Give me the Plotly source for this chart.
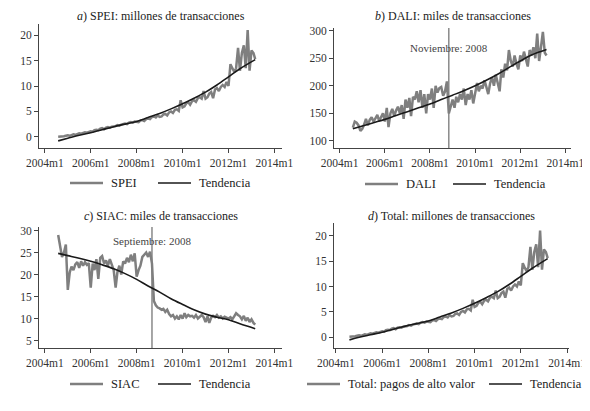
import pandas as pd
import plotly.graph_objects as go

# monthly observations, 2004m8 - 2013m3
months = pd.date_range("2004-08-01", "2013-03-01", freq="MS")

spei = [0.0, 0.0, 0.1, 0.1, 0.2,
        0.3, 0.2, 0.4, 0.5, 0.4, 0.6, 0.7, 0.6, 0.8, 0.9, 0.8, 1.0,
        1.1, 1.0, 1.3, 1.4, 1.3, 1.6, 1.7, 1.5, 1.8, 1.9, 1.8, 2.0,
        2.0, 2.1, 2.3, 2.2, 2.4, 2.5, 2.6, 2.5, 2.8, 2.9, 2.8, 3.0,
        3.0, 2.9, 3.2, 3.3, 3.1, 3.5, 3.6, 3.5, 3.9, 4.0, 3.8, 4.2,
        3.9, 4.0, 4.4, 4.5, 4.2, 4.8, 5.0, 4.7, 5.3, 5.4, 5.1, 7.2,
        5.8, 6.0, 6.6, 6.8, 6.3, 7.0, 7.2, 6.9, 7.6, 7.8, 7.5, 9.0,
        7.5, 7.8, 8.5, 8.8, 7.6, 9.3, 9.6, 9.0, 9.8, 10.2, 9.8, 10.8,
        10.0, 14.3, 13.5, 12.8, 13.5, 17.5, 13.0, 16.5, 18.0, 13.5, 21.0, 13.0,
        17.0, 16.5, 15.3]

dali = [124, 135, 133, 128, 118,
        122, 130, 140, 128, 138, 143, 135, 141, 147, 136, 145, 150,
        135, 160, 125, 150, 158, 145, 155, 162, 150, 165, 140, 175,
        160, 178, 145, 180, 175, 190, 170, 192, 160, 185, 150, 185,
        175, 195, 160, 200, 188, 196, 198, 182, 190, 208, 150, 165,
        175, 160, 180, 170, 185, 175, 195, 165, 185, 175, 192, 168,
        185, 205, 190, 200, 195, 210, 198, 185, 205, 215, 200, 220,
        205, 190, 230, 215, 240, 228, 265, 245, 235, 255, 240, 230,
        255, 245, 262, 250, 235, 265, 255, 270, 250, 295, 245, 270,
        298, 260, 255]

siac = [29.0, 26.5, 24.0, 25.0, 26.8,
        16.5, 20.5, 21.8, 21.0, 22.3, 22.8, 21.5, 23.0, 22.0, 22.8, 22.2, 22.6,
        17.0, 22.5, 21.0, 23.5, 19.0, 23.8, 24.2, 22.5, 23.2, 22.0, 23.5, 22.0,
        21.0, 17.0, 20.5, 22.0, 20.0, 23.0, 22.5, 23.8, 22.8, 24.5, 23.0, 24.8,
        19.5, 21.0, 22.0, 24.0, 24.5, 25.0, 24.0, 25.2, 22.5, 14.0, 13.0, 12.5,
        12.3, 12.0, 12.2, 11.5, 12.0, 11.0, 10.5, 10.8, 10.0, 10.5, 9.8, 10.8,
        10.0, 11.2, 10.3, 10.8, 10.5, 10.6, 10.2, 10.8, 10.0, 10.5, 10.8, 10.3,
        9.2, 10.5, 9.0, 10.2, 10.6, 10.3, 10.8, 10.2, 10.5, 10.0, 10.4, 10.2,
        10.0, 10.3, 9.8, 10.5, 11.2, 10.8, 10.5, 9.8, 10.6, 9.5, 10.2, 9.2,
        9.8, 9.0, 8.6]

total = [0.1, 0.1, 0.2, 0.2, 0.3,
         0.4, 0.3, 0.5, 0.6, 0.5, 0.7, 0.8, 0.7, 0.9, 1.0, 0.9, 1.1,
         1.2, 1.1, 1.4, 1.5, 1.4, 1.7, 1.8, 1.6, 1.9, 2.0, 1.9, 2.1,
         2.1, 2.2, 2.4, 2.3, 2.5, 2.6, 2.7, 2.6, 2.9, 3.0, 2.9, 3.1,
         3.1, 3.0, 3.3, 3.4, 3.2, 3.6, 3.7, 3.6, 4.0, 4.1, 3.9, 4.4,
         4.1, 4.2, 4.6, 4.7, 4.4, 5.0, 5.2, 4.9, 5.5, 5.6, 5.3, 7.4,
         6.0, 6.2, 6.8, 7.0, 6.5, 7.2, 7.4, 7.1, 7.8, 8.0, 7.7, 9.2,
         7.7, 8.0, 8.7, 9.0, 7.8, 9.5, 9.8, 9.2, 10.0, 10.4, 10.0, 11.0,
         10.2, 14.6, 13.8, 13.0, 13.8, 17.8, 13.3, 16.8, 18.3, 13.8, 21.0, 13.3,
         17.3, 16.8, 15.6]

# trend read every six months
trend_dates = ["2004-08-01", "2005-01-01", "2005-07-01", "2006-01-01", "2006-07-01",
               "2007-01-01", "2007-07-01", "2008-01-01", "2008-07-01", "2009-01-01",
               "2009-07-01", "2010-01-01", "2010-07-01", "2011-01-01", "2011-07-01",
               "2012-01-01", "2012-07-01", "2013-03-01"]
spei_trend = [-0.8, -0.3, 0.3, 0.8, 1.4, 2.0, 2.5, 3.0, 3.8, 4.6, 5.5, 6.5,
              7.6, 8.8, 10.2, 11.8, 13.4, 15.2]
dali_trend = [122, 127, 133, 139, 146, 153, 160, 167, 175, 183, 191, 200,
              210, 221, 233, 245, 256, 266]
siac_trend = [24.8, 24.3, 23.7, 23.0, 22.2, 21.3, 20.2, 18.9, 17.4, 16.0, 14.5, 13.2,
              12.0, 11.0, 10.3, 9.7, 8.8, 7.7]
total_trend = [-0.5, 0.0, 0.5, 1.0, 1.6, 2.2, 2.7, 3.2, 4.0, 4.8, 5.7, 6.7,
               7.8, 9.0, 10.4, 12.0, 13.6, 15.5]

tick_dates = ["2004-01-01", "2006-01-01", "2008-01-01", "2010-01-01", "2012-01-01", "2014-01-01"]
tick_labels = ["2004m1", "2006m1", "2008m1", "2010m1", "2012m1", "2014m1"]

FONT = "Liberation Serif"
GREY = "#7f7f7f"
BLACK = "#1a1a1a"
# the page body keeps an 8px margin, so the figure is sized to the visible window
PAD = 8
W, H = 590 - PAD, 411 - PAD


def px(x):
    return (x - PAD) / W


def py(y):
    return 1 - (y - PAD) / H


panels = [
    # series, trend, name, title, yticks, yrange, xrange,
    # box (left, right, top, bottom px), title bottom px, legend (x1, x2, y px)
    (spei, spei_trend, "SPEI", "<i>a</i>) SPEI: millones de transacciones",
     [0, 5, 10, 15, 20], [-2.2, 22.2], ["2003-10-01", "2014-05-01"], (39, 282, 24, 148), 25,
     (70, 158, 183)),
    (dali, dali_trend, "DALI", "<i>b</i>) DALI: miles de transacciones",
     [100, 150, 200, 250, 300], [87, 305], ["2003-10-01", "2014-04-01"], (334, 571, 28, 148), 25,
     (365, 453, 184)),
    (siac, siac_trend, "SIAC", "<i>c</i>) SIAC: miles de transacciones",
     [5, 10, 15, 20, 25, 30], [3.3, 30.8], ["2003-10-01", "2014-05-01"], (39, 282, 227, 348), 225,
     (70, 158, 384)),
    (total, total_trend, "Total: pagos de alto valor", "<i>d</i>) Total: millones de transacciones",
     [0, 5, 10, 15, 20], [-2.1, 22.5], ["2003-12-01", "2014-02-01"], (334, 569, 223, 348), 225,
     (307, 489, 384)),
]

fig = go.Figure()
layout = dict(width=W, height=H, margin=dict(l=0, r=0, t=0, b=0),
              paper_bgcolor="white", plot_bgcolor="white", showlegend=False,
              font=dict(family=FONT, size=12, color="#333333"))
annotations = []
shapes = []


def legend_entry(x0, y, color, width, label):
    # short line sample followed by its label
    shapes.append(dict(type="line", xref="paper", yref="paper",
                       x0=px(x0), x1=px(x0 + 33), y0=py(y), y1=py(y),
                       line=dict(color=color, width=width)))
    annotations.append(dict(text=label, xref="paper", yref="paper", x=px(x0 + 39),
                            y=py(y), xanchor="left", yanchor="middle", showarrow=False,
                            font=dict(family=FONT, size=12.5, color="#222222")))


for i, (ser, tr, name, title, yt, yr, xr, box, ty, lg) in enumerate(panels):
    n = i + 1
    sfx = "" if n == 1 else str(n)
    xd = [px(box[0]), px(box[1])]
    yd = [py(box[3]), py(box[2])]
    fig.add_trace(go.Scatter(x=months, y=ser, mode="lines", name=name,
                             line=dict(color=GREY, width=2.5),
                             xaxis="x" + sfx, yaxis="y" + sfx))
    fig.add_trace(go.Scatter(x=trend_dates, y=tr, mode="lines", name="Tendencia",
                             line=dict(color=BLACK, width=1.6, shape="spline"),
                             xaxis="x" + sfx, yaxis="y" + sfx))
    axis_style = dict(showline=True, linecolor="#444444", linewidth=1, ticks="outside",
                      ticklen=4, tickcolor="#444444", showgrid=False, zeroline=False,
                      automargin=False,
                      tickfont=dict(family=FONT, size=11.5, color="#333333"))
    layout["xaxis" + sfx] = dict(axis_style, domain=xd, type="date", range=xr,
                                 tickvals=tick_dates, ticktext=tick_labels,
                                 tickangle=0, anchor="y" + sfx)
    layout["yaxis" + sfx] = dict(axis_style, domain=yd, range=yr, tickvals=yt,
                                 anchor="x" + sfx)
    annotations.append(dict(text=title, xref="paper", yref="paper",
                            x=(xd[0] + xd[1]) / 2, y=py(ty), xanchor="center",
                            yanchor="bottom", showarrow=False,
                            font=dict(family=FONT, size=12, color="#222222")))
    legend_entry(lg[0], lg[2], GREY, 2.5, name)
    legend_entry(lg[1], lg[2], BLACK, 1.6, "Tendencia")

# structural break markers
breaks = [("x2", "y2", "2008-11-01", [87, 305], "Noviembre: 2008", 268),
          ("x3", "y3", "2008-09-01", [3.3, 30.8], "Septiembre: 2008", 27.6)]
for xa, ya, d, yr, label, ly in breaks:
    shapes.append(dict(type="line", xref=xa, yref=ya, x0=d, x1=d, y0=yr[0], y1=yr[1],
                       line=dict(color="#777777", width=1.3), layer="below"))
    annotations.append(dict(text=label, xref=xa, yref=ya, x=d, y=ly, showarrow=False,
                            xanchor="center", font=dict(family=FONT, size=11, color="#444444")))

layout["annotations"] = annotations
layout["shapes"] = shapes
fig.update_layout(**layout)

fig.write_html("out.html")
